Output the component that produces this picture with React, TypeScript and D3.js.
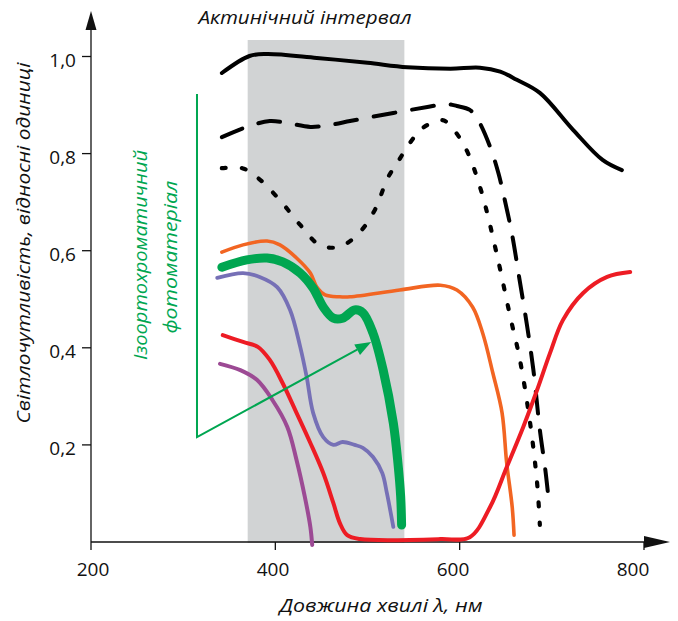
import React from 'react';
import * as d3 from 'd3';

const W = 678
const H = 621

// wavelength ticks, nm
const xTicks = [200, 400, 600, 800]
const yTicks = [0.2, 0.4, 0.6, 0.8, 1.0]

// actinic interval, nm
const actinic = [370, 540]

// curves as [nm, relative units]
const solidCurve = [
  [342, 0.966], [372, 1.001], [391, 1.005], [445, 0.997], [500, 0.987], [543, 0.978],
  [590, 0.975], [622, 0.977], [644, 0.969], [662, 0.952], [687, 0.925], [723, 0.849],
  [755, 0.787], [776, 0.766],
]
const dashedCurve = [
  [342, 0.834], [372, 0.857], [394, 0.867], [413, 0.863], [438, 0.855], [459, 0.859],
  [481, 0.867], [506, 0.876], [535, 0.886], [565, 0.896], [586, 0.902], [597, 0.898],
  [611, 0.89], [620, 0.869], [633, 0.814], [642, 0.76], [649, 0.704], [657, 0.632],
  [665, 0.54], [673, 0.447], [680, 0.354], [687, 0.231], [693, 0.148], [696, 0.097],
]
const dottedCurve = [
  [342, 0.77], [364, 0.77], [381, 0.75], [405, 0.704], [427, 0.653], [448, 0.612],
  [470, 0.608], [492, 0.639], [508, 0.684], [522, 0.75], [533, 0.783], [546, 0.822],
  [560, 0.853], [579, 0.869], [586, 0.865], [598, 0.838], [609, 0.801], [624, 0.719],
  [640, 0.595], [655, 0.463], [665, 0.379], [676, 0.251], [684, 0.122], [687, 0.035],
]
const orangeCurve = [
  [342, 0.597], [365, 0.612], [391, 0.62], [405, 0.612], [423, 0.585], [438, 0.554],
  [445, 0.525], [454, 0.509], [470, 0.505], [481, 0.505], [535, 0.519], [579, 0.529],
  [597, 0.519], [614, 0.484], [625, 0.43], [636, 0.348], [646, 0.266], [651, 0.163],
  [657, 0.072], [659, 0.014],
]
const greenCurve = [
  [342, 0.566], [369, 0.581], [391, 0.585], [408, 0.577], [427, 0.554], [441, 0.523],
  [452, 0.484], [463, 0.461], [473, 0.461], [486, 0.478], [495, 0.472], [506, 0.43],
  [517, 0.354], [528, 0.245], [533, 0.163], [536, 0.093], [537, 0.035],
]
const purpleCurve = [
  [337, 0.544], [365, 0.554], [383, 0.546], [402, 0.525], [416, 0.478], [427, 0.402],
  [434, 0.34], [441, 0.266], [452, 0.216], [463, 0.2], [473, 0.206], [486, 0.2],
  [495, 0.194], [506, 0.175], [516, 0.142], [521, 0.101], [528, 0.031],
]
const redCurve = [
  [343, 0.426], [365, 0.412], [381, 0.402], [394, 0.375], [408, 0.327], [423, 0.266],
  [438, 0.204], [452, 0.142], [463, 0.08], [470, 0.039], [478, 0.014], [492, 0.006],
  [579, 0.006], [611, 0.01], [633, 0.072], [651, 0.154], [669, 0.237], [684, 0.313],
  [698, 0.389], [712, 0.457], [734, 0.513], [760, 0.546], [785, 0.556],
]
const magentaCurve = [
  [340, 0.367], [362, 0.354], [380, 0.334], [397, 0.292], [413, 0.237], [423, 0.169],
  [432, 0.093], [438, 0.031], [440, -0.006],
]

// green annotation bracket: top, corner, arrow tip
const bracket = [[315, 0.923], [315, 0.216], [504, 0.412]]

const font = '"Open Sans", "Noto Sans", sans-serif'

const App = () => {
  const x = d3.scaleLinear().domain([200, 800]).range([91, 644])
  // tick labels sit a little left of their ticks in the original
  const xLab = d3.scaleLinear().domain([200, 800]).range([93, 633])
  const y = d3.scaleLinear().domain([0, 1]).range([542, 56.5])

  const line = d3.line<number[]>()
    .x(d => x(d[0]))
    .y(d => y(d[1]))
    .curve(d3.curveCatmullRom.alpha(0.5))

  const series = [
    { data: orangeCurve, color: '#f26522', w: 3.6 },
    { data: purpleCurve, color: '#7670b6', w: 3.8 },
    { data: magentaCurve, color: '#9c4a94', w: 4 },
    { data: redCurve, color: '#ed1c24', w: 4 },
    { data: greenCurve, color: '#00a651', w: 9 },
  ]

  const [b0, b1, b2] = bracket.map(p => [x(p[0]), y(p[1])])
  const ang = Math.atan2(b2[1] - b1[1], b2[0] - b1[0])
  const headLen = 16
  const headW = 6
  const hx = b2[0] - headLen * Math.cos(ang)
  const hy = b2[1] - headLen * Math.sin(ang)
  const head = [
    [b2[0], b2[1]],
    [hx + headW * Math.sin(ang), hy - headW * Math.cos(ang)],
    [hx - headW * Math.sin(ang), hy + headW * Math.cos(ang)],
  ]

  return (
    <svg width={W} height={H} style={{ position: 'absolute', left: 0, top: 0, background: '#fff' }}>
      {/* actinic interval */}
      <rect x={x(actinic[0])} y={40} width={x(actinic[1]) - x(actinic[0])} height={y(0) + 1 - 40} fill="#d1d3d4" />
      <text x={305} y={24} textAnchor="middle" fontFamily={font} fontStyle="italic" fontSize={18}
        textLength={213} lengthAdjust="spacingAndGlyphs" fill="#111">Актинічний інтервал</text>

      {/* axes */}
      <line x1={x(200)} x2={x(200)} y1={y(0)} y2={28} stroke="#111" strokeWidth={1.3} />
      <path d={`M${x(200)},11 L${x(200) - 5.5},30 L${x(200) + 5.5},30 Z`} fill="#111" />
      <line x1={x(200)} x2={648} y1={y(0)} y2={y(0)} stroke="#111" strokeWidth={1.3} />
      <path d={`M670,${y(0)} L644,${y(0) - 6} L644,${y(0) + 6} Z`} fill="#111" />

      {xTicks.map(t => (
        <g key={t}>
          <line x1={x(t)} x2={x(t)} y1={y(0)} y2={y(0) + 8} stroke="#111" strokeWidth={1.3} />
          <text x={xLab(t)} y={576} textAnchor="middle" fontFamily={font} fontSize={19} fill="#111">{t}</text>
        </g>
      ))}
      {yTicks.map(t => (
        <g key={t}>
          <line x1={x(200) - 9} x2={x(200)} y1={y(t)} y2={y(t)} stroke="#111" strokeWidth={1.3} />
          <text x={76} y={y(t) + 10} textAnchor="end" fontFamily={font} fontSize={19} fill="#111">
            {d3.format('.1f')(t).replace('.', ',')}
          </text>
        </g>
      ))}

      <text x={381} y={612} textAnchor="middle" fontFamily={font} fontStyle="italic" fontSize={18}
        textLength={203} lengthAdjust="spacingAndGlyphs" fill="#111">Довжина хвилі λ, нм</text>
      <text transform="translate(24,243) rotate(-90)" dy="0.35em" textAnchor="middle" fontFamily={font}
        fontStyle="italic" fontSize={18} textLength={361} lengthAdjust="spacingAndGlyphs" fill="#111">
        Світлочутливість, відносні одиниці
      </text>

      {/* black curves */}
      <path d={line(solidCurve)} fill="none" stroke="#000" strokeWidth={4} strokeLinecap="round" />
      <path d={line(dashedCurve)} fill="none" stroke="#000" strokeWidth={4} strokeLinecap="round"
        strokeDasharray="22,17" />
      <path d={line(dottedCurve)} fill="none" stroke="#000" strokeWidth={4.2} strokeLinecap="round"
        strokeDasharray="4,16" />

      {series.map((s, i) => (
        <path key={i} d={line(s.data)} fill="none" stroke={s.color} strokeWidth={s.w}
          strokeLinecap="round" strokeLinejoin="round" />
      ))}

      {/* annotation */}
      <polyline points={[b0, b1, [hx, hy]].map(p => p.join(',')).join(' ')} fill="none"
        stroke="#00a651" strokeWidth={2} />
      <path d={`M${head.map(p => p.join(',')).join('L')}Z`} fill="#00a651" />
      <text transform="translate(140,255) rotate(-90)" dy="0.35em" textAnchor="middle" fontFamily={font}
        fontStyle="italic" fontSize={19} textLength={210} lengthAdjust="spacingAndGlyphs" fill="#00a651">
        Ізоортохроматичний
      </text>
      <text transform="translate(170,257) rotate(-90)" dy="0.35em" textAnchor="middle" fontFamily={font}
        fontStyle="italic" fontSize={19} textLength={153} lengthAdjust="spacingAndGlyphs" fill="#00a651">
        фотоматеріал
      </text>
    </svg>
  )
}

export default App
